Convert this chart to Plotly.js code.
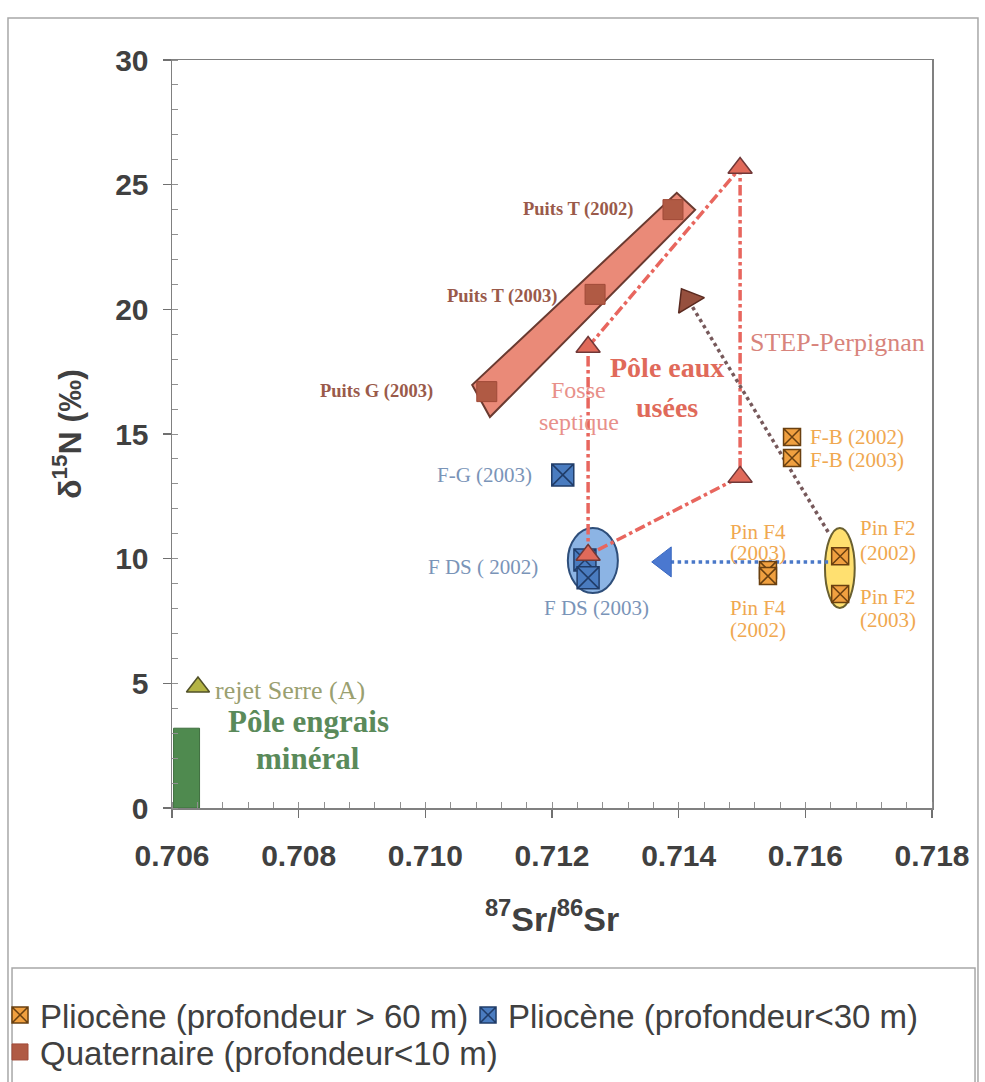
<!DOCTYPE html>
<html><head><meta charset="utf-8">
<script src="https://cdn.plot.ly/plotly-3.0.1.min.js"></script>
<style>html,body{margin:0;padding:0;background:#fff;}#chart{width:985px;height:1082px;}</style>
</head><body><div id="chart"></div>
<script>
// ---- Data ----
// Quaternaire (profondeur<10 m)
const quatNames = ['Puits T (2002)', 'Puits T (2003)', 'Puits G (2003)'];
const quatSr = [0.71391, 0.71268, 0.71097];
const quatN = [24.0, 20.6, 16.7];
// Pliocène (profondeur > 60 m)
const deepNames = ['F-B (2002)', 'F-B (2003)', 'Pin F4 (2003)', 'Pin F4 (2002)', 'Pin F2 (2002)', 'Pin F2 (2003)'];
const deepSr = [0.71579, 0.71579, 0.71541, 0.71541, 0.71655, 0.71655];
const deepN = [14.88, 14.04, 9.55, 9.30, 10.10, 8.58];
// Pliocène (profondeur<30 m)
const shallowNames = ['F-G (2003)', 'F DS ( 2002)', 'F DS (2003)'];
const shallowSr = [0.71217, 0.71252, 0.71257];
const shallowN = [13.36, 9.95, 9.23];
// Pôle eaux usées (end-members): Fosse septique, STEP top, STEP bottom, F DS vertex
const wasteSr = [0.71257, 0.71497, 0.71497, 0.71257];
const wasteN = [18.49, 25.67, 13.28, 10.15];
// rejet Serre (A)
const serreSr = [0.70641];
const serreN = [4.85];
// Pôle engrais minéral bar
const engraisSr = [0.70623];
const engraisN = [3.2];
const engraisWidth = [0.00041];
// Arrows
const brownArrowSr = [0.71636, 0.71415];
const brownArrowN = [11.07, 20.38];
const blueArrowSr = [0.71636, 0.71378];
const blueArrowN = [9.87, 9.87];
// Zones
const bandSr = [0.71074, 0.71397, 0.71426, 0.71102];
const bandN = [16.97, 24.67, 23.99, 15.68];
const fdsZoneSr = [0.71225, 0.71304];
const fdsZoneN = [8.62, 11.23];
const pinZoneSr = [0.71631, 0.71678];
const pinZoneN = [8.02, 11.23];
// Axis settings
const xRange = [0.706, 0.718];
const yRange = [0, 30];

const SANS = 'Liberation Sans, Arial, sans-serif';
const SERIF = 'Liberation Serif, Times New Roman, serif';

const W = 985, H = 1082;
const M = { l: 172, r: 53, t: 60, b: 274 };
const plotW = W - M.l - M.r, plotH = H - M.t - M.b;
// direction of an arrow segment on screen (degrees clockwise from up)
function arrowAngle(xs, ys) {
  const dx = (xs[1] - xs[0]) * plotW / (xRange[1] - xRange[0]);
  const dy = (ys[1] - ys[0]) * plotH / (yRange[1] - yRange[0]);
  return Math.atan2(dx, dy) * 180 / Math.PI;
}

const traces = [
  { type: 'bar', x: engraisSr, y: engraisN, width: engraisWidth, showlegend: false,
    marker: { color: '#4f8a4f', line: { color: '#3d6e3d', width: 1 } }, hoverinfo: 'skip' },
  { type: 'scatter', mode: 'lines', showlegend: false, hoverinfo: 'skip',
    x: wasteSr.concat([wasteSr[0]]), y: wasteN.concat([wasteN[0]]),
    line: { color: '#e8665e', width: 3.5, dash: 'dashdot' } },
  { type: 'scatter', mode: 'lines+markers', showlegend: false, hoverinfo: 'skip',
    x: brownArrowSr, y: brownArrowN,
    line: { color: '#76585a', width: 3.5, dash: 'dot' },
    marker: { symbol: 'triangle-up', size: [0, 26], opacity: 1, angle: arrowAngle(brownArrowSr, brownArrowN),
      color: '#96503e', line: { color: '#5a2a20', width: 1.5 } } },
  { type: 'scatter', mode: 'lines+markers', showlegend: false, hoverinfo: 'skip',
    x: blueArrowSr, y: blueArrowN,
    line: { color: '#4a78c8', width: 3.5, dash: 'dot' },
    marker: { symbol: 'triangle-up', size: [0, 26], opacity: 1, angle: arrowAngle(blueArrowSr, blueArrowN),
      color: '#4a78d0', line: { color: '#3a68c0', width: 1 } } },
  { type: 'scatter', mode: 'markers', showlegend: false, x: serreSr, y: serreN,
    marker: { symbol: 'triangle-up', size: 20, color: '#b4b444', line: { color: '#505028', width: 1.5 } } },
  { type: 'scatter', mode: 'markers', name: 'Pliocène (profondeur > 60 m)', legend: 'legend',
    x: deepSr, y: deepN, text: deepNames,
    marker: { symbol: 'square-x', size: 17, color: '#f0a040', line: { color: '#6a4010', width: 1.5 } } },
  { type: 'scatter', mode: 'markers', name: 'Pliocène (profondeur<30 m)', legend: 'legend2',
    x: shallowSr, y: shallowN, text: shallowNames,
    marker: { symbol: 'square-x', size: 22, color: '#4a7cc0', line: { color: '#203c68', width: 1.5 } } },
  { type: 'scatter', mode: 'markers', name: 'Quaternaire (profondeur<10 m)', legend: 'legend3',
    x: quatSr, y: quatN, text: quatNames,
    marker: { symbol: 'square', size: 20, color: '#b05a44', line: { color: '#a04a38', width: 1 } } },
  { type: 'scatter', mode: 'markers', showlegend: false, x: wasteSr, y: wasteN,
    marker: { symbol: 'triangle-up', size: 21, color: '#e06a5a', line: { color: '#703838', width: 1.5 } } }
];

const serifAnn = (text, x, y, opts) => Object.assign({
  text: text, x: x, y: y, xref: 'x', yref: 'y', showarrow: false,
  font: { family: SERIF, size: 21, color: '#f0a850' }
}, opts);

const brownLbl = { family: SERIF, size: 18.5, color: '#9a5a4a', weight: 'bold' };
const orangeLbl = { family: SERIF, size: 21, color: '#f0a850' };
const blueLbl = { family: SERIF, size: 21, color: '#7a94b8' };

const annotations = [
  serifAnn(quatNames[0], quatSr[0], quatN[0], { xanchor: 'right', xshift: -38, font: brownLbl }),
  serifAnn(quatNames[1], quatSr[1], quatN[1], { xanchor: 'right', xshift: -36, yshift: -2, font: brownLbl }),
  serifAnn(quatNames[2], quatSr[2], quatN[2], { xanchor: 'right', xshift: -52, font: brownLbl }),
  serifAnn(deepNames[0], deepSr[0], deepN[0], { xanchor: 'left', xshift: 16, font: orangeLbl }),
  serifAnn(deepNames[1], deepSr[1], deepN[1], { xanchor: 'left', xshift: 16, yshift: -2, font: orangeLbl }),
  serifAnn('Pin F4', deepSr[2], deepN[2], { xshift: -10, yshift: 38, font: orangeLbl }),
  serifAnn('(2003)', deepSr[2], deepN[2], { xshift: -10, yshift: 17, font: orangeLbl }),
  serifAnn('Pin F4', deepSr[3], deepN[3], { xshift: -10, yshift: -32, font: orangeLbl }),
  serifAnn('(2002)', deepSr[3], deepN[3], { xshift: -10, yshift: -54, font: orangeLbl }),
  serifAnn('Pin F2', deepSr[4], deepN[4], { xanchor: 'left', xshift: 18, yshift: 28, font: orangeLbl }),
  serifAnn('(2002)', deepSr[4], deepN[4], { xanchor: 'left', xshift: 18, yshift: 3, font: orangeLbl }),
  serifAnn('Pin F2', deepSr[5], deepN[5], { xanchor: 'left', xshift: 18, yshift: -3, font: orangeLbl }),
  serifAnn('(2003)', deepSr[5], deepN[5], { xanchor: 'left', xshift: 18, yshift: -26, font: orangeLbl }),
  serifAnn(shallowNames[0], shallowSr[0], shallowN[0], { xanchor: 'right', xshift: -29, font: blueLbl }),
  serifAnn(shallowNames[1], shallowSr[1], shallowN[1], { xanchor: 'right', xshift: -45, yshift: -7, font: blueLbl }),
  serifAnn(shallowNames[2], shallowSr[2], shallowN[2], { xshift: 8, yshift: -30, font: blueLbl }),
  serifAnn('STEP-Perpignan', wasteSr[1], 18.69, { xanchor: 'left', xshift: 8, font: { family: SERIF, size: 26, color: '#d8847c' } }),
  serifAnn('Fosse', 0.71242, 16.77, { font: { family: SERIF, size: 24, color: '#e8908a' } }),
  serifAnn('septique', 0.71242, 15.48, { font: { family: SERIF, size: 24, color: '#e8908a' } }),
  serifAnn('Pôle eaux', 0.71382, 17.65, { font: { family: SERIF, size: 28, color: '#e06a5a', weight: 'bold' } }),
  serifAnn('usées', 0.71382, 16.08, { font: { family: SERIF, size: 28, color: '#e06a5a', weight: 'bold' } }),
  serifAnn('rejet Serre (A)', serreSr[0], serreN[0], { xanchor: 'left', xshift: 15, yshift: -3, font: { family: SERIF, size: 26, color: '#9aa070' } }),
  serifAnn('Pôle engrais', 0.70815, 3.45, { font: { family: SERIF, size: 31, color: '#5a8a5a', weight: 'bold' } }),
  serifAnn('minéral', 0.70815, 2.0, { font: { family: SERIF, size: 31, color: '#5a8a5a', weight: 'bold' } })
];

const bandPath = 'M ' + bandSr.map((s, i) => s + ',' + bandN[i]).join(' L ') + ' Z';

const shapes = [
  { type: 'rect', xref: 'paper', yref: 'paper', x0: -0.2158, x1: 1.0605, y0: -0.3700, y1: 1.0561,
    line: { color: '#a8a8a8', width: 1.5 }, fillcolor: 'rgba(0,0,0,0)', layer: 'below' },
  { type: 'rect', xref: 'paper', yref: 'paper', x0: -0.2105, x1: 1.0566, y0: -0.3700, y1: -0.2139,
    line: { color: '#a8a8a8', width: 1.5 }, fillcolor: 'rgba(0,0,0,0)', layer: 'below' },
  { type: 'path', xref: 'x', yref: 'y', path: bandPath, fillcolor: '#ea8a78',
    line: { color: '#6a3a30', width: 2 }, layer: 'below' },
  { type: 'circle', xref: 'x', yref: 'y', x0: fdsZoneSr[0], x1: fdsZoneSr[1], y0: fdsZoneN[0], y1: fdsZoneN[1],
    fillcolor: '#8cb4e4', line: { color: '#2e4e7a', width: 2 }, layer: 'below' },
  { type: 'circle', xref: 'x', yref: 'y', x0: pinZoneSr[0], x1: pinZoneSr[1], y0: pinZoneN[0], y1: pinZoneN[1],
    fillcolor: '#ffe070', line: { color: '#6a6030', width: 2 }, layer: 'below' }
];

const legendFont = { family: SANS, size: 33, color: '#404040' };
const legendBase = { orientation: 'h', xanchor: 'left', yanchor: 'middle', bgcolor: 'rgba(0,0,0,0)',
  borderwidth: 0, font: legendFont, itemclick: false };

const layout = {
  width: W, height: H,
  margin: { l: M.l, r: M.r, t: M.t, b: M.b, autoexpand: false },
  paper_bgcolor: '#ffffff', plot_bgcolor: '#ffffff',
  showlegend: true,
  legend: Object.assign({}, legendBase, { x: -0.2263, y: -0.2767 }),
  legend2: Object.assign({}, legendBase, { x: 0.3895, y: -0.2767 }),
  legend3: Object.assign({}, legendBase, { x: -0.2263, y: -0.3262 }),
  xaxis: {
    range: xRange, tickmode: 'linear', tick0: 0.706, dtick: 0.002, tickformat: '.3f',
    ticks: 'outside', ticklen: 8, tickwidth: 1.5, tickcolor: '#707070',
    minor: { dtick: 0.0004, tick0: 0.706, ticks: 'inside', ticklen: 6, tickwidth: 1, tickcolor: '#909090', showgrid: false },
    showline: true, linecolor: '#808080', linewidth: 1.5, mirror: true,
    showgrid: false, zeroline: false, automargin: false,
    tickfont: { family: SANS, size: 30, color: '#404040', weight: 'bold' },
    ticklabelstandoff: 12,
    title: { text: '<sup>87</sup>Sr/<sup>86</sup>Sr', standoff: 36,
      font: { family: SANS, size: 34, color: '#404040', weight: 'bold' } }
  },
  yaxis: {
    range: yRange, tickmode: 'linear', tick0: 0, dtick: 5,
    ticks: 'outside', ticklen: 8, tickwidth: 1.5, tickcolor: '#707070',
    minor: { dtick: 1, tick0: 0, ticks: 'inside', ticklen: 6, tickwidth: 1, tickcolor: '#909090', showgrid: false },
    showline: true, linecolor: '#808080', linewidth: 1.5, mirror: true,
    showgrid: false, zeroline: false, automargin: false,
    tickfont: { family: SANS, size: 30, color: '#404040', weight: 'bold' },
    ticklabelstandoff: 8,
    title: { text: 'δ<sup>15</sup>N (‰)', standoff: 24,
      font: { family: SANS, size: 32, color: '#404040', weight: 'bold' } }
  },
  shapes: shapes,
  annotations: annotations
};

Plotly.newPlot('chart', traces, layout, { displayModeBar: false, staticPlot: true });
</script>
</body></html>
